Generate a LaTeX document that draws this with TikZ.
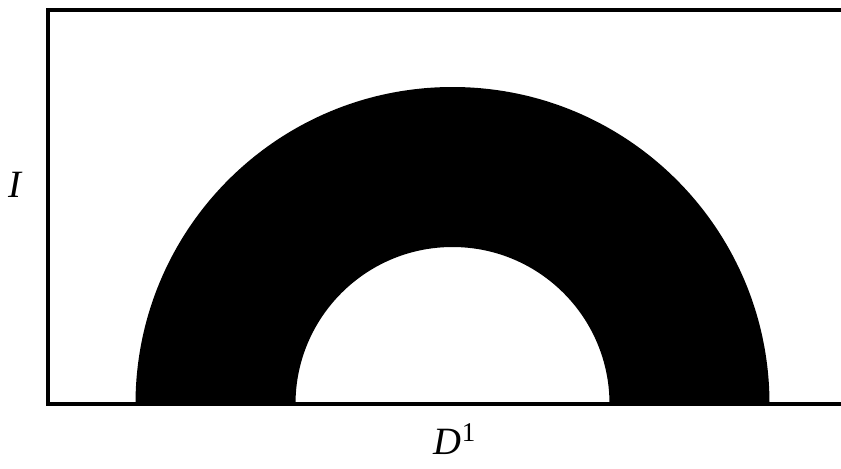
\documentclass[tikz,border=0pt]{standalone}
\usepackage{fontspec}
\setmainfont{Liberation Serif}
\usepackage{amsmath}

\begin{document}
\begin{tikzpicture}[
    x=0.02cm, y=0.02cm,
    frame/.style={draw, line width=1.8pt, line join=miter},
    ring/.style={fill=black},
    lbl/.style={font=\fontsize{22}{26}\selectfont\itshape, inner sep=0pt}
]
    \useasboundingbox (0,0) rectangle (841,468);
    % axes box, open on the right
    \draw[frame] (841,458) -- (48,458) -- (48,64) -- (841,64);
    % half ring
    \fill[ring] (135.5,64) arc (180:0:317) -- (609.5,64) arc (0:180:157) -- cycle;
    \node[lbl] (ilabel) at (15,283) {I};
    \node[lbl] (dlabel) at (455,29) {D\textsuperscript{\upshape 1}};
\end{tikzpicture}
\end{document}
